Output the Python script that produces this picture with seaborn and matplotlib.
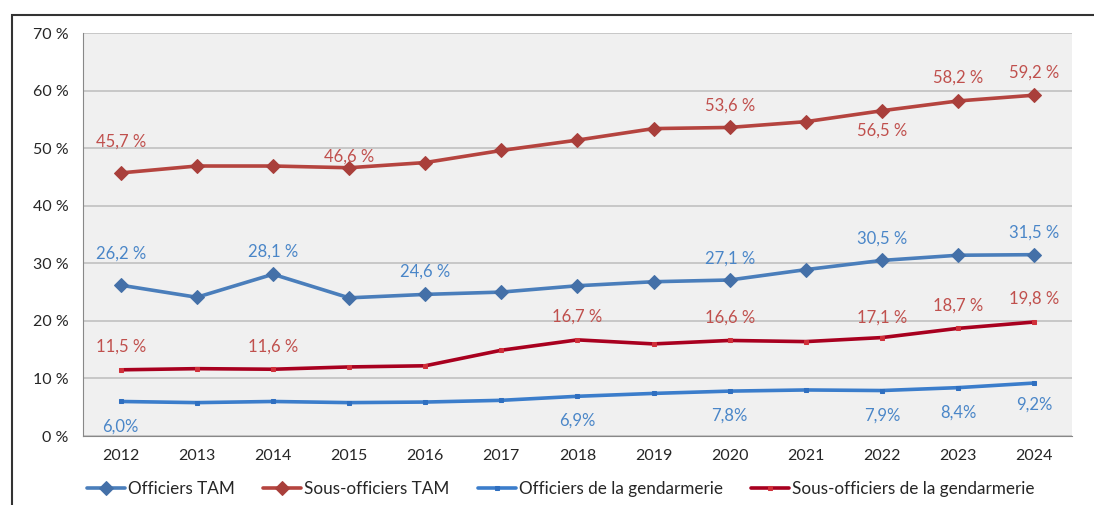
import pandas as pd
import matplotlib.pyplot as plt
import matplotlib.patches as mpatches
import seaborn as sns

# values (in %)
years = [2012, 2013, 2014, 2015, 2016, 2017, 2018, 2019, 2020, 2021, 2022, 2023, 2024]
officiers_tam = [26.2, 24.1, 28.1, 24.0, 24.6, 25.0, 26.1, 26.8, 27.1, 28.9, 30.5, 31.4, 31.5]
sous_officiers_tam = [45.7, 46.9, 46.9, 46.6, 47.5, 49.6, 51.4, 53.4, 53.6, 54.6, 56.5, 58.2, 59.2]
officiers_gend = [6.0, 5.8, 6.0, 5.8, 5.9, 6.2, 6.9, 7.4, 7.8, 8.0, 7.9, 8.4, 9.2]
sous_officiers_gend = [11.5, 11.7, 11.6, 12.0, 12.2, 14.9, 16.7, 16.0, 16.6, 16.4, 17.1, 18.7, 19.8]
y_ticks = [0, 10, 20, 30, 40, 50, 60, 70]

# which points get a label, and how it is written
lab_off_tam = {2012: "26,2 %", 2014: "28,1 %", 2016: "24,6 %", 2020: "27,1 %", 2022: "30,5 %", 2024: "31,5 %"}
lab_so_tam = {2012: "45,7 %", 2015: "46,6 %", 2020: "53,6 %", 2022: "56,5 %", 2023: "58,2 %", 2024: "59,2 %"}
lab_so_gend = {2012: "11,5 %", 2014: "11,6 %", 2018: "16,7 %", 2020: "16,6 %", 2022: "17,1 %", 2023: "18,7 %", 2024: "19,8 %"}
lab_off_gend = {2012: "6,0%", 2018: "6,9%", 2020: "7,8%", 2022: "7,9%", 2023: "8,4%", 2024: "9,2%"}

sns.set_style("white")
plt.rcParams['font.family'] = ['Lato', 'DejaVu Sans']

fig = plt.figure(figsize=(10.94, 5.05), dpi=100)
ax = fig.add_axes([0.0756, 0.1366, 0.9044, 0.798])
ax.set_facecolor('#f0f0f0')

x = list(range(len(years)))
series = [
    ("Officiers TAM", officiers_tam, '#4a7ebb', 'D', 7, '#4470a8'),
    ("Sous-officiers TAM", sous_officiers_tam, '#b5443f', 'D', 7, '#a93f3b'),
    ("Officiers de la gendarmerie", officiers_gend, '#3b7dcb', 's', 3.5, '#2f6fc0'),
    ("Sous-officiers de la gendarmerie", sous_officiers_gend, '#a8001f', 's', 3.5, '#d0303a'),
]
for name, vals, col, mk, ms, mcol in series:
    df = pd.DataFrame({'x': x, 'v': vals})
    sns.lineplot(data=df, x='x', y='v', ax=ax, color=col, lw=2.6, marker=mk,
                 markersize=ms, markerfacecolor=mcol, markeredgecolor=mcol,
                 label=name, zorder=3)

blue_txt = '#4a86c8'
red_txt = '#c0504d'
# vertical offset of each label from its point, in data units
off_off_tam = {2012: 5.4, 2014: 4.0, 2016: 3.9, 2020: 3.8, 2022: 3.8, 2024: 3.8}
off_so_tam = {2012: 5.4, 2015: 2.0, 2020: 3.8, 2022: -3.5, 2023: 4.0, 2024: 3.9}
off_so_gend = {2012: 4.0, 2014: 3.9, 2018: 4.0, 2020: 4.0, 2022: 3.4, 2023: 4.0, 2024: 4.0}
off_off_gend = {2012: -4.3, 2018: -4.3, 2020: -4.3, 2022: -4.3, 2023: -4.3, 2024: -3.8}

for labels, offs, vals, col in [(lab_off_tam, off_off_tam, officiers_tam, blue_txt),
                                (lab_so_tam, off_so_tam, sous_officiers_tam, red_txt),
                                (lab_so_gend, off_so_gend, sous_officiers_gend, red_txt),
                                (lab_off_gend, off_off_gend, officiers_gend, blue_txt)]:
    for yr, txt in labels.items():
        i = years.index(yr)
        ax.text(i, vals[i] + offs[yr], txt, color=col, fontsize=12,
                ha='center', va='center', zorder=4)

ax.set_xlim(-0.5, len(years) - 0.5)
ax.set_ylim(0, 70)
ax.set_yticks(y_ticks)
ax.set_yticklabels([f"{t} %" for t in y_ticks], fontsize=11.5)
ax.set_xticks(x)
ax.set_xticklabels([str(y) for y in years], fontsize=11.5)
ax.set_xticks([i - 0.5 for i in range(len(years) + 1)], minor=True)
ax.tick_params(axis='x', which='major', length=0, pad=9)
ax.tick_params(axis='x', which='minor', length=6, color='#888888', width=1)
ax.tick_params(axis='y', length=6, color='#888888', width=1, pad=4)
ax.set_xlabel("")
ax.set_ylabel("")
ax.grid(axis='y', color='#c0c0c0', lw=1.2)
ax.set_axisbelow(True)
for s in ['top', 'right']:
    ax.spines[s].set_visible(False)
ax.spines['left'].set_color('#888888')
ax.spines['bottom'].set_color('#888888')

ax.legend(loc='center', bbox_to_anchor=(561 / 1094, 16 / 505),
          bbox_transform=fig.transFigure, ncol=4, frameon=False,
          fontsize=12.3, handlelength=2.2, handletextpad=0.2, columnspacing=1.65)

# outer chart frame
fig.patches.append(mpatches.Rectangle((12 / 1094, -0.1), 1.2, 1 - 15 / 505 + 0.1,
                                      transform=fig.transFigure, fill=False,
                                      edgecolor='#333333', lw=1.5))

fig.savefig("out.png", dpi=100)
